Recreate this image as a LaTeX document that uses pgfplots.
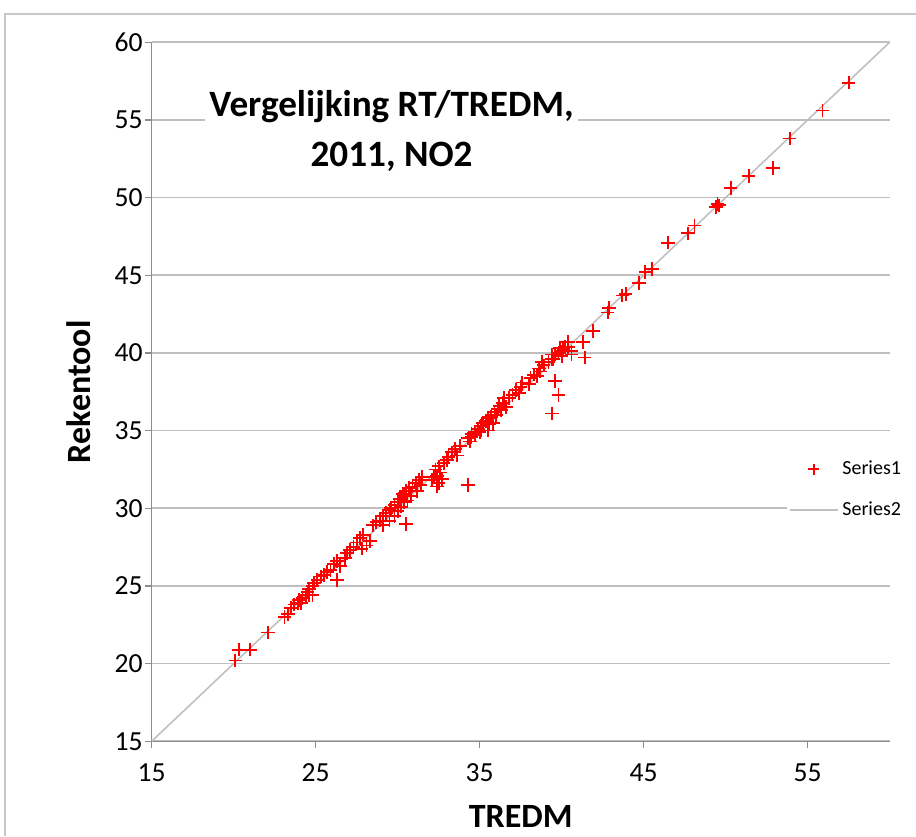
\documentclass[border=0pt]{standalone}
\usepackage{fontspec}
\setmainfont{Carlito}
\usepackage{pgfplots}
\pgfplotsset{compat=1.18}
\definecolor{gridgray}{RGB}{191,191,191}
\definecolor{axgray}{RGB}{140,140,140}
\definecolor{linegray}{RGB}{192,192,192}
\definecolor{frame}{RGB}{200,200,200}
\definecolor{pred}{RGB}{255,0,0}
\begin{document}
\begin{tikzpicture}[x=1pt,y=1pt]
\useasboundingbox (0,0) rectangle (458,418);
\draw[frame, line width=0.8pt] (2.5,0) -- (2.5,411) -- (458,411);
\begin{axis}[
  at={(92.5,61)}, anchor=south west,
  width=369pt, height=349.5pt, scale only axis,
  xmin=15, xmax=60, ymin=15, ymax=60,
  axis x line*=bottom, axis y line*=left,
  axis line style={axgray, line width=0.6pt},
  xtick={15,25,35,45,55}, ytick={15,20,...,60},
  tick align=outside, major tick length=3.5pt,
  tick style={axgray, line width=0.6pt},
  ymajorgrids, grid style={gridgray, line width=0.8pt},
  /pgf/number format/assume math mode=true,
  tick label style={font=\fontsize{13.8}{16}\selectfont},
  xticklabel style={yshift=-4pt},
  yticklabel style={xshift=2.5pt},
  xlabel={TREDM}, ylabel={Rekentool},
  label style={font=\bfseries\fontsize{17}{20}\selectfont},
  xlabel style={at={(axis description cs:0.5,-0.107)}, anchor=center},
  ylabel style={at={(axis description cs:-0.099,0.5)}, anchor=center},
  legend style={at={(0.86,0.41)}, anchor=north west, draw=none, fill=white,
    font=\fontsize{10}{12}\selectfont, row sep=8pt, inner sep=1pt},
  legend cell align=left,
  legend image code/.code={\draw[mark repeat=2,mark phase=2,#1] plot coordinates {(0pt,0pt)(12pt,0pt)(24pt,0pt)};},
]
\addplot[color=linegray, line width=0.8pt, mark=none, forget plot] coordinates {(15,15) (60,60)};
\addplot[only marks, mark=+, color=pred, mark size=3.4pt, line width=0.9pt, mark options={draw=pred, solid, line width=0.9pt}, forget plot] coordinates {
(20.1,20.2) (20.3,20.9) (21.0,20.9) (22.1,22.0) (23.1,23.0) (23.3,23.2) (23.5,23.6)
(23.7,23.8) (23.9,23.9) (24.0,24.1) (24.2,24.2) (24.1,23.9) (24.4,24.4) (24.5,24.6)
(24.6,24.8) (24.8,25.0) (24.8,24.4) (24.6,24.4) (24.9,25.2) (25.1,25.4) (25.3,25.6)
(25.5,25.7) (25.7,25.9) (25.9,26.0) (26.1,26.4) (26.3,26.6) (26.5,26.3) (26.3,25.4)
(26.8,26.8) (26.9,27.1) (27.1,27.3) (27.3,27.5) (27.5,27.8) (27.7,28.1) (27.8,27.4)
(28.1,27.6) (27.9,28.3) (28.3,27.9) (28.5,28.9) (28.7,29.1) (28.9,29.2) (29.1,29.5)
(29.1,28.9) (29.3,29.7) (29.5,29.9) (29.8,29.8) (29.8,30.2) (30.0,30.4) (30.2,30.6)
(30.4,30.9) (30.6,30.5) (30.5,29.0) (29.5,29.2) (29.8,29.5) (29.6,30.0) (30.0,29.8)
(30.2,30.1) (30.4,30.4) (30.1,30.6) (30.3,30.9) (30.5,31.1) (30.7,31.3) (30.9,31.4)
(30.8,30.8) (31.2,31.1) (31.1,31.6) (31.4,31.5) (31.3,31.8) (31.5,32.0) (32.1,31.8)
(32.2,32.0) (32.4,32.1) (32.3,32.5) (32.4,31.4) (32.5,31.6) (32.5,32.7) (32.6,32.3)
(32.7,31.9) (32.8,32.9) (33.0,33.1) (33.1,33.3) (33.3,33.6) (33.5,33.8) (33.6,33.4)
(33.8,34.0) (34.3,31.5) (34.3,34.5) (34.4,34.3) (34.5,34.6) (34.5,34.8) (34.7,34.9)
(34.7,34.7) (34.9,35.1) (35.0,34.9) (35.1,35.3) (35.1,35.0) (35.2,35.5) (35.4,35.6)
(35.5,35.0) (35.5,35.8) (35.6,35.4) (35.7,35.9) (35.8,35.5) (35.9,36.2) (36.0,36.0)
(36.1,36.4) (36.2,36.6) (36.3,36.3) (36.4,36.8) (36.5,37.1) (36.6,36.5) (36.8,37.1)
(37.0,37.3) (37.2,37.6) (37.4,37.4) (37.5,37.8) (37.6,38.1) (38.0,38.0) (38.1,38.4)
(38.3,38.6) (38.5,38.5) (38.6,39.0) (38.7,38.8) (38.8,39.4) (38.9,39.2) (39.2,39.4)
(39.4,39.6) (39.4,39.9) (39.5,39.6) (39.6,39.9) (39.6,38.2) (39.8,37.3) (39.4,36.1)
(39.8,40.0) (39.9,40.3) (40.0,39.8) (40.0,40.1) (40.1,40.2) (40.1,40.3) (40.2,40.4)
(40.4,40.4) (40.6,40.1) (40.6,39.9) (40.4,40.7) (41.3,40.7) (41.4,39.7) (41.9,41.4)
(42.8,42.6) (42.9,42.9) (43.7,43.7) (43.9,43.8) (44.7,44.5) (45.1,45.2) (45.5,45.4)
(46.5,47.1) (47.7,47.7) (48.1,48.2) (49.4,49.4) (49.5,49.6) (49.6,49.5) (50.3,50.6)
(51.4,51.4) (52.9,51.9) (53.9,53.8) (55.9,55.6) (57.5,57.4)
};
\addlegendimage{only marks, mark=+, color=pred, mark size=2.6pt, line width=1pt, mark options={color=pred, solid, line width=1pt}}
\addlegendentry{Series1}
\addlegendimage{color=linegray, line width=0.8pt, mark=none}
\addlegendentry{Series2}
\node[fill=white, inner sep=2pt, align=center, font=\bfseries\fontsize{18.6}{25}\selectfont]
  at (rel axis cs:0.325,0.873) {Vergelijking RT/TREDM,\\2011, NO2};
\end{axis}
\end{tikzpicture}
\end{document}
